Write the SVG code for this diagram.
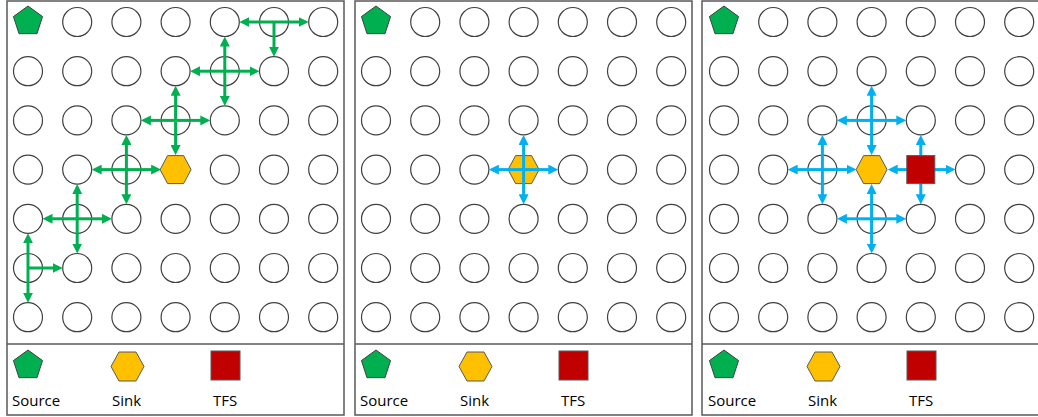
<svg xmlns="http://www.w3.org/2000/svg" xmlns:xlink="http://www.w3.org/1999/xlink" width="1038" height="417" viewBox="0 0 1038 417">
<style>
.frame{fill:#fff;stroke:#595959;stroke-width:1.5}
.div{stroke:#595959;stroke-width:1.5}
.n{fill:#fff;stroke:#404040;stroke-width:1.2}
.src{fill:#00B050;stroke:#404040;stroke-width:1}
.snk{fill:#FFC000;stroke:#595959;stroke-width:1}
.tfs{fill:#C00000;stroke:#595959;stroke-width:1}
.g{stroke:#00B050;stroke-width:3;fill:none;marker-end:url(#ag)}
.b{stroke:#00B0F0;stroke-width:3;fill:none;marker-end:url(#ab)}
.lbl{font-family:"Open Sans","Liberation Sans",sans-serif;font-size:15px;fill:#000}
</style>
<defs>
<marker id="ag" markerUnits="userSpaceOnUse" markerWidth="10" markerHeight="10" refX="4" refY="5" orient="auto"><path d="M0,0 L10,5 L0,10 z" fill="#00B050"/></marker>
<marker id="ab" markerUnits="userSpaceOnUse" markerWidth="10" markerHeight="10" refX="4" refY="5" orient="auto"><path d="M0,0 L10,5 L0,10 z" fill="#00B0F0"/></marker>
<polygon id="pent" points="0,-15.3 14.55,-4.73 8.99,12.38 -8.99,12.38 -14.55,-4.73"/>
<polygon id="hex" points="-15.5,0 -8,-14 8,-14 15.5,0 8,14 -8,14"/>
<polygon id="hexL" points="-16.5,0 -8.5,-14.5 8.5,-14.5 16.5,0 8.5,14.5 -8.5,14.5"/>
<circle id="c" r="14.5"/>
</defs>

<!-- PANEL 1 -->
<g id="panel1">
<rect class="frame" x="7" y="1" width="337" height="414"/>
<line class="div" x1="7" y1="344" x2="344" y2="344"/>
<g id="p1-source"><use href="#pent" class="src" x="28" y="21.3"/></g>
<g id="p1-r1c2"><use href="#c" class="n" x="77.2" y="22"/></g>
<g id="p1-r1c3"><use href="#c" class="n" x="126.4" y="22"/></g>
<g id="p1-r1c4"><use href="#c" class="n" x="175.6" y="22"/></g>
<g id="p1-r1c5"><use href="#c" class="n" x="224.8" y="22"/></g>
<g id="p1-r1c6"><use href="#c" class="n" x="274" y="22"/></g>
<g id="p1-r1c7"><use href="#c" class="n" x="323.2" y="22"/></g>
<g id="p1-r2c1"><use href="#c" class="n" x="28" y="71.2"/></g>
<g id="p1-r2c2"><use href="#c" class="n" x="77.2" y="71.2"/></g>
<g id="p1-r2c3"><use href="#c" class="n" x="126.4" y="71.2"/></g>
<g id="p1-r2c4"><use href="#c" class="n" x="175.6" y="71.2"/></g>
<g id="p1-r2c5"><use href="#c" class="n" x="224.8" y="71.2"/></g>
<g id="p1-r2c6"><use href="#c" class="n" x="274" y="71.2"/></g>
<g id="p1-r2c7"><use href="#c" class="n" x="323.2" y="71.2"/></g>
<g id="p1-r3c1"><use href="#c" class="n" x="28" y="120.4"/></g>
<g id="p1-r3c2"><use href="#c" class="n" x="77.2" y="120.4"/></g>
<g id="p1-r3c3"><use href="#c" class="n" x="126.4" y="120.4"/></g>
<g id="p1-r3c4"><use href="#c" class="n" x="175.6" y="120.4"/></g>
<g id="p1-r3c5"><use href="#c" class="n" x="224.8" y="120.4"/></g>
<g id="p1-r3c6"><use href="#c" class="n" x="274" y="120.4"/></g>
<g id="p1-r3c7"><use href="#c" class="n" x="323.2" y="120.4"/></g>
<g id="p1-r4c1"><use href="#c" class="n" x="28" y="169.6"/></g>
<g id="p1-r4c2"><use href="#c" class="n" x="77.2" y="169.6"/></g>
<g id="p1-r4c3"><use href="#c" class="n" x="126.4" y="169.6"/></g>
<g id="p1-sink"><use href="#hex" class="snk" x="175.6" y="169.6"/></g>
<g id="p1-r4c5"><use href="#c" class="n" x="224.8" y="169.6"/></g>
<g id="p1-r4c6"><use href="#c" class="n" x="274" y="169.6"/></g>
<g id="p1-r4c7"><use href="#c" class="n" x="323.2" y="169.6"/></g>
<g id="p1-r5c1"><use href="#c" class="n" x="28" y="218.8"/></g>
<g id="p1-r5c2"><use href="#c" class="n" x="77.2" y="218.8"/></g>
<g id="p1-r5c3"><use href="#c" class="n" x="126.4" y="218.8"/></g>
<g id="p1-r5c4"><use href="#c" class="n" x="175.6" y="218.8"/></g>
<g id="p1-r5c5"><use href="#c" class="n" x="224.8" y="218.8"/></g>
<g id="p1-r5c6"><use href="#c" class="n" x="274" y="218.8"/></g>
<g id="p1-r5c7"><use href="#c" class="n" x="323.2" y="218.8"/></g>
<g id="p1-r6c1"><use href="#c" class="n" x="28" y="268"/></g>
<g id="p1-r6c2"><use href="#c" class="n" x="77.2" y="268"/></g>
<g id="p1-r6c3"><use href="#c" class="n" x="126.4" y="268"/></g>
<g id="p1-r6c4"><use href="#c" class="n" x="175.6" y="268"/></g>
<g id="p1-r6c5"><use href="#c" class="n" x="224.8" y="268"/></g>
<g id="p1-r6c6"><use href="#c" class="n" x="274" y="268"/></g>
<g id="p1-r6c7"><use href="#c" class="n" x="323.2" y="268"/></g>
<g id="p1-r7c1"><use href="#c" class="n" x="28" y="317.2"/></g>
<g id="p1-r7c2"><use href="#c" class="n" x="77.2" y="317.2"/></g>
<g id="p1-r7c3"><use href="#c" class="n" x="126.4" y="317.2"/></g>
<g id="p1-r7c4"><use href="#c" class="n" x="175.6" y="317.2"/></g>
<g id="p1-r7c5"><use href="#c" class="n" x="224.8" y="317.2"/></g>
<g id="p1-r7c6"><use href="#c" class="n" x="274" y="317.2"/></g>
<g id="p1-r7c7"><use href="#c" class="n" x="323.2" y="317.2"/></g>
<g id="p1-connectors">
<line class="g" x1="274" y1="22" x2="245.3" y2="22"/>
<line class="g" x1="274" y1="22" x2="302.7" y2="22"/>
<line class="g" x1="274" y1="22" x2="274" y2="50.7"/>
<line class="g" x1="224.8" y1="71.2" x2="224.8" y2="42.5"/>
<line class="g" x1="224.8" y1="71.2" x2="224.8" y2="99.9"/>
<line class="g" x1="224.8" y1="71.2" x2="196.1" y2="71.2"/>
<line class="g" x1="224.8" y1="71.2" x2="253.5" y2="71.2"/>
<line class="g" x1="175.6" y1="120.4" x2="175.6" y2="91.7"/>
<line class="g" x1="175.6" y1="120.4" x2="175.6" y2="149.1"/>
<line class="g" x1="175.6" y1="120.4" x2="146.9" y2="120.4"/>
<line class="g" x1="175.6" y1="120.4" x2="204.3" y2="120.4"/>
<line class="g" x1="126.4" y1="169.6" x2="126.4" y2="140.9"/>
<line class="g" x1="126.4" y1="169.6" x2="126.4" y2="198.3"/>
<line class="g" x1="126.4" y1="169.6" x2="97.7" y2="169.6"/>
<line class="g" x1="126.4" y1="169.6" x2="155.1" y2="169.6"/>
<line class="g" x1="77.2" y1="218.8" x2="77.2" y2="190.1"/>
<line class="g" x1="77.2" y1="218.8" x2="77.2" y2="247.5"/>
<line class="g" x1="77.2" y1="218.8" x2="48.5" y2="218.8"/>
<line class="g" x1="77.2" y1="218.8" x2="105.9" y2="218.8"/>
<line class="g" x1="28" y1="268" x2="28" y2="239.3"/>
<line class="g" x1="28" y1="268" x2="28" y2="296.7"/>
<line class="g" x1="28" y1="268" x2="56.7" y2="268"/>
</g>
<g id="p1-legend">
<use href="#pent" class="src" x="28" y="365.3"/>
<use href="#hexL" class="snk" x="127.5" y="366.5"/>
<rect class="tfs" x="211" y="351" width="29" height="29"/>
<text class="lbl" x="12" y="406">Source</text>
<text class="lbl" x="112" y="406">Sink</text>
<text class="lbl" x="213" y="406">TFS</text>
</g>
</g>

<!-- PANEL 2 -->
<g id="panel2" transform="translate(348,0)">
<rect class="frame" x="7" y="1" width="337" height="414"/>
<line class="div" x1="7" y1="344" x2="344" y2="344"/>
<g id="p2-source"><use href="#pent" class="src" x="28" y="21.3"/></g>
<g id="p2-r1c2"><use href="#c" class="n" x="77.2" y="22"/></g>
<g id="p2-r1c3"><use href="#c" class="n" x="126.4" y="22"/></g>
<g id="p2-r1c4"><use href="#c" class="n" x="175.6" y="22"/></g>
<g id="p2-r1c5"><use href="#c" class="n" x="224.8" y="22"/></g>
<g id="p2-r1c6"><use href="#c" class="n" x="274" y="22"/></g>
<g id="p2-r1c7"><use href="#c" class="n" x="323.2" y="22"/></g>
<g id="p2-r2c1"><use href="#c" class="n" x="28" y="71.2"/></g>
<g id="p2-r2c2"><use href="#c" class="n" x="77.2" y="71.2"/></g>
<g id="p2-r2c3"><use href="#c" class="n" x="126.4" y="71.2"/></g>
<g id="p2-r2c4"><use href="#c" class="n" x="175.6" y="71.2"/></g>
<g id="p2-r2c5"><use href="#c" class="n" x="224.8" y="71.2"/></g>
<g id="p2-r2c6"><use href="#c" class="n" x="274" y="71.2"/></g>
<g id="p2-r2c7"><use href="#c" class="n" x="323.2" y="71.2"/></g>
<g id="p2-r3c1"><use href="#c" class="n" x="28" y="120.4"/></g>
<g id="p2-r3c2"><use href="#c" class="n" x="77.2" y="120.4"/></g>
<g id="p2-r3c3"><use href="#c" class="n" x="126.4" y="120.4"/></g>
<g id="p2-r3c4"><use href="#c" class="n" x="175.6" y="120.4"/></g>
<g id="p2-r3c5"><use href="#c" class="n" x="224.8" y="120.4"/></g>
<g id="p2-r3c6"><use href="#c" class="n" x="274" y="120.4"/></g>
<g id="p2-r3c7"><use href="#c" class="n" x="323.2" y="120.4"/></g>
<g id="p2-r4c1"><use href="#c" class="n" x="28" y="169.6"/></g>
<g id="p2-r4c2"><use href="#c" class="n" x="77.2" y="169.6"/></g>
<g id="p2-r4c3"><use href="#c" class="n" x="126.4" y="169.6"/></g>
<g id="p2-sink"><use href="#hex" class="snk" x="175.6" y="169.6"/></g>
<g id="p2-r4c5"><use href="#c" class="n" x="224.8" y="169.6"/></g>
<g id="p2-r4c6"><use href="#c" class="n" x="274" y="169.6"/></g>
<g id="p2-r4c7"><use href="#c" class="n" x="323.2" y="169.6"/></g>
<g id="p2-r5c1"><use href="#c" class="n" x="28" y="218.8"/></g>
<g id="p2-r5c2"><use href="#c" class="n" x="77.2" y="218.8"/></g>
<g id="p2-r5c3"><use href="#c" class="n" x="126.4" y="218.8"/></g>
<g id="p2-r5c4"><use href="#c" class="n" x="175.6" y="218.8"/></g>
<g id="p2-r5c5"><use href="#c" class="n" x="224.8" y="218.8"/></g>
<g id="p2-r5c6"><use href="#c" class="n" x="274" y="218.8"/></g>
<g id="p2-r5c7"><use href="#c" class="n" x="323.2" y="218.8"/></g>
<g id="p2-r6c1"><use href="#c" class="n" x="28" y="268"/></g>
<g id="p2-r6c2"><use href="#c" class="n" x="77.2" y="268"/></g>
<g id="p2-r6c3"><use href="#c" class="n" x="126.4" y="268"/></g>
<g id="p2-r6c4"><use href="#c" class="n" x="175.6" y="268"/></g>
<g id="p2-r6c5"><use href="#c" class="n" x="224.8" y="268"/></g>
<g id="p2-r6c6"><use href="#c" class="n" x="274" y="268"/></g>
<g id="p2-r6c7"><use href="#c" class="n" x="323.2" y="268"/></g>
<g id="p2-r7c1"><use href="#c" class="n" x="28" y="317.2"/></g>
<g id="p2-r7c2"><use href="#c" class="n" x="77.2" y="317.2"/></g>
<g id="p2-r7c3"><use href="#c" class="n" x="126.4" y="317.2"/></g>
<g id="p2-r7c4"><use href="#c" class="n" x="175.6" y="317.2"/></g>
<g id="p2-r7c5"><use href="#c" class="n" x="224.8" y="317.2"/></g>
<g id="p2-r7c6"><use href="#c" class="n" x="274" y="317.2"/></g>
<g id="p2-r7c7"><use href="#c" class="n" x="323.2" y="317.2"/></g>
<g id="p2-connectors">
<line class="b" x1="175.6" y1="169.6" x2="175.6" y2="140.9"/>
<line class="b" x1="175.6" y1="169.6" x2="175.6" y2="198.3"/>
<line class="b" x1="175.6" y1="169.6" x2="146.9" y2="169.6"/>
<line class="b" x1="175.6" y1="169.6" x2="204.3" y2="169.6"/>
</g>
<g id="p2-legend">
<use href="#pent" class="src" x="28" y="365.3"/>
<use href="#hexL" class="snk" x="127.5" y="366.5"/>
<rect class="tfs" x="211" y="351" width="29" height="29"/>
<text class="lbl" x="12" y="406">Source</text>
<text class="lbl" x="112" y="406">Sink</text>
<text class="lbl" x="213" y="406">TFS</text>
</g>
</g>

<!-- PANEL 3 -->
<g id="panel3" transform="translate(696,0)">
<rect class="frame" x="6" y="1" width="340" height="414"/>
<line class="div" x1="6" y1="344" x2="346" y2="344"/>
<g id="p3-source"><use href="#pent" class="src" x="28" y="21.3"/></g>
<g id="p3-r1c2"><use href="#c" class="n" x="77.2" y="22"/></g>
<g id="p3-r1c3"><use href="#c" class="n" x="126.4" y="22"/></g>
<g id="p3-r1c4"><use href="#c" class="n" x="175.6" y="22"/></g>
<g id="p3-r1c5"><use href="#c" class="n" x="224.8" y="22"/></g>
<g id="p3-r1c6"><use href="#c" class="n" x="274" y="22"/></g>
<g id="p3-r1c7"><use href="#c" class="n" x="323.2" y="22"/></g>
<g id="p3-r2c1"><use href="#c" class="n" x="28" y="71.2"/></g>
<g id="p3-r2c2"><use href="#c" class="n" x="77.2" y="71.2"/></g>
<g id="p3-r2c3"><use href="#c" class="n" x="126.4" y="71.2"/></g>
<g id="p3-r2c4"><use href="#c" class="n" x="175.6" y="71.2"/></g>
<g id="p3-r2c5"><use href="#c" class="n" x="224.8" y="71.2"/></g>
<g id="p3-r2c6"><use href="#c" class="n" x="274" y="71.2"/></g>
<g id="p3-r2c7"><use href="#c" class="n" x="323.2" y="71.2"/></g>
<g id="p3-r3c1"><use href="#c" class="n" x="28" y="120.4"/></g>
<g id="p3-r3c2"><use href="#c" class="n" x="77.2" y="120.4"/></g>
<g id="p3-r3c3"><use href="#c" class="n" x="126.4" y="120.4"/></g>
<g id="p3-r3c4"><use href="#c" class="n" x="175.6" y="120.4"/></g>
<g id="p3-r3c5"><use href="#c" class="n" x="224.8" y="120.4"/></g>
<g id="p3-r3c6"><use href="#c" class="n" x="274" y="120.4"/></g>
<g id="p3-r3c7"><use href="#c" class="n" x="323.2" y="120.4"/></g>
<g id="p3-r4c1"><use href="#c" class="n" x="28" y="169.6"/></g>
<g id="p3-r4c2"><use href="#c" class="n" x="77.2" y="169.6"/></g>
<g id="p3-r4c3"><use href="#c" class="n" x="126.4" y="169.6"/></g>
<g id="p3-sink"><use href="#hex" class="snk" x="175.6" y="169.6"/></g>
<g id="p3-r4c6"><use href="#c" class="n" x="274" y="169.6"/></g>
<g id="p3-r4c7"><use href="#c" class="n" x="323.2" y="169.6"/></g>
<g id="p3-r5c1"><use href="#c" class="n" x="28" y="218.8"/></g>
<g id="p3-r5c2"><use href="#c" class="n" x="77.2" y="218.8"/></g>
<g id="p3-r5c3"><use href="#c" class="n" x="126.4" y="218.8"/></g>
<g id="p3-r5c4"><use href="#c" class="n" x="175.6" y="218.8"/></g>
<g id="p3-r5c5"><use href="#c" class="n" x="224.8" y="218.8"/></g>
<g id="p3-r5c6"><use href="#c" class="n" x="274" y="218.8"/></g>
<g id="p3-r5c7"><use href="#c" class="n" x="323.2" y="218.8"/></g>
<g id="p3-r6c1"><use href="#c" class="n" x="28" y="268"/></g>
<g id="p3-r6c2"><use href="#c" class="n" x="77.2" y="268"/></g>
<g id="p3-r6c3"><use href="#c" class="n" x="126.4" y="268"/></g>
<g id="p3-r6c4"><use href="#c" class="n" x="175.6" y="268"/></g>
<g id="p3-r6c5"><use href="#c" class="n" x="224.8" y="268"/></g>
<g id="p3-r6c6"><use href="#c" class="n" x="274" y="268"/></g>
<g id="p3-r6c7"><use href="#c" class="n" x="323.2" y="268"/></g>
<g id="p3-r7c1"><use href="#c" class="n" x="28" y="317.2"/></g>
<g id="p3-r7c2"><use href="#c" class="n" x="77.2" y="317.2"/></g>
<g id="p3-r7c3"><use href="#c" class="n" x="126.4" y="317.2"/></g>
<g id="p3-r7c4"><use href="#c" class="n" x="175.6" y="317.2"/></g>
<g id="p3-r7c5"><use href="#c" class="n" x="224.8" y="317.2"/></g>
<g id="p3-r7c6"><use href="#c" class="n" x="274" y="317.2"/></g>
<g id="p3-r7c7"><use href="#c" class="n" x="323.2" y="317.2"/></g>
<g id="p3-connectors">
<line class="b" x1="175.6" y1="120.4" x2="175.6" y2="91.7"/>
<line class="b" x1="175.6" y1="120.4" x2="175.6" y2="149.1"/>
<line class="b" x1="175.6" y1="120.4" x2="146.9" y2="120.4"/>
<line class="b" x1="175.6" y1="120.4" x2="204.3" y2="120.4"/>
<line class="b" x1="126.4" y1="169.6" x2="126.4" y2="140.9"/>
<line class="b" x1="126.4" y1="169.6" x2="126.4" y2="198.3"/>
<line class="b" x1="126.4" y1="169.6" x2="97.7" y2="169.6"/>
<line class="b" x1="126.4" y1="169.6" x2="154.5" y2="169.6"/>
<line class="b" x1="175.6" y1="218.8" x2="175.6" y2="190.1"/>
<line class="b" x1="175.6" y1="218.8" x2="175.6" y2="247.5"/>
<line class="b" x1="175.6" y1="218.8" x2="146.9" y2="218.8"/>
<line class="b" x1="175.6" y1="218.8" x2="204.3" y2="218.8"/>
<line class="b" x1="224.8" y1="169.6" x2="224.8" y2="140.9"/>
<line class="b" x1="224.8" y1="169.6" x2="224.8" y2="198.3"/>
<line class="b" x1="224.8" y1="169.6" x2="197.7" y2="169.6"/>
<line class="b" x1="224.8" y1="169.6" x2="253.5" y2="169.6"/>
</g>
<g id="p3-tfs"><rect class="tfs" x="210.8" y="155.6" width="28" height="28"/></g>
<g id="p3-legend">
<use href="#pent" class="src" x="28" y="365.3"/>
<use href="#hexL" class="snk" x="127.5" y="366.5"/>
<rect class="tfs" x="211" y="351" width="29" height="29"/>
<text class="lbl" x="12" y="406">Source</text>
<text class="lbl" x="112" y="406">Sink</text>
<text class="lbl" x="213" y="406">TFS</text>
</g>
</g>
</svg>
